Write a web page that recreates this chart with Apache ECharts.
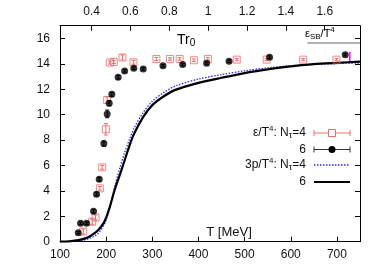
<!DOCTYPE html>
<html><head><meta charset="utf-8">
<script src="https://cdn.jsdelivr.net/npm/echarts@6/dist/echarts.min.js"></script>
<style>html,body{margin:0;padding:0;background:#fff}#c{width:382px;height:267px}</style>
</head><body><div id="c"></div>
<script>
// ε/T^4, N_tau = 4 (open red squares)
const T_eps4 = [150.4,169.8,177,186.4,191.4,199.4,202.2,208,216.6,235.4,259.2,308.8,338.3,359.2,390.1,420.4,483,547.8,627,699];
const V_eps4 = [0.8,1.57,1.9,4.2,5.85,8.85,11.15,14.1,14.15,14.5,14.12,14.38,14.38,14.38,14.28,14.38,14.33,14.33,14.33,14.33];
const E_eps4 = [0.2,0.2,0.2,0.15,0.15,0.45,0.25,0.12,0.12,0.2,0.15,0.12,0.1,0.1,0.1,0.1,0.08,0.08,0.08,0.08];
// ε/T^4, N_tau = 6 (filled black circles)
const T_eps6 = [139.6,144.6,157.6,172.7,179.2,185,195,202.2,206.6,212.3,226,240,259.9,280.3,323.1,365.8,417.7,466.3,554,718];
const V_eps6 = [0.71,1.45,1.45,2.39,3.73,4.91,7.72,10.06,10.9,11.6,12.94,13.44,13.65,13.6,13.85,13.94,14.05,14.2,14.52,14.72];
const E_eps6 = [0.1,0.1,0.1,0.12,0.12,0.15,0.2,0.3,0.2,0.15,0.15,0.1,0.1,0.1,0.1,0.1,0.1,0.1,0.1,0.1];
// 3p/T^4 curves
const T_p = [100,120,140,160,175,185,195,200,205,210,215,220,230,240,250,260,280,300,325,350,400,450,500,550,600,650,700,750];
const V_p4 = [0,0.01,0.06,0.2,0.45,0.75,1.3,1.72,2.3,3.0,3.8,4.55,5.85,7.0,8.0,8.9,10.15,11.05,11.75,12.25,12.8,13.15,13.45,13.68,13.85,13.96,14.02,14.06];
const V_p6 = [0,0.03,0.12,0.33,0.68,1.0,1.5,1.9,2.4,3.0,3.65,4.25,5.3,6.4,7.5,8.45,9.8,10.75,11.45,11.95,12.5,12.9,13.27,13.56,13.8,13.97,14.08,14.18];
// Stefan-Boltzmann limit segment and magenta bar
const SB_T = [636, 750];
const SB_V = [15.63, 15.63];
const MAG_T = [728, 728];
const MAG_V = [14.15, 14.95];
// axes
const X_MIN = 100, X_MAX = 750, X_STEP = 100;
const Y_MIN = 0, Y_MAX = 17, Y_STEP = 2;
const MEV_PER_R0T = 421;
const TOP_TICKS = [0.4,0.6,0.8,1.0,1.2,1.4,1.6];

const RED = '#f06a6a', BLUE = '#2a2aff', BLK = '#000';
const FONT = 'Liberation Sans, Arial, Helvetica, sans-serif';

const zip3 = (a,b,c) => a.map((t,i)=>[t,b[i],c[i]]);
const zip2 = (a,b) => a.map((t,i)=>[t,b[i]]);

function errRender(color){
  return function(params, api){
    const x = api.value(0), y = api.value(1), e = api.value(2);
    const p1 = api.coord([x, y-e]), p2 = api.coord([x, y+e]);
    const w = 2;
    const st = {stroke: color, lineWidth: 1, fill: null};
    return {type:'group', children:[
      {type:'line', shape:{x1:p1[0],y1:p1[1],x2:p2[0],y2:p2[1]}, style:st},
      {type:'line', shape:{x1:p1[0]-w,y1:p1[1],x2:p1[0]+w,y2:p1[1]}, style:st},
      {type:'line', shape:{x1:p2[0]-w,y1:p2[1],x2:p2[0]+w,y2:p2[1]}, style:st}
    ]};
  };
}

const chart = echarts.init(document.getElementById('c'), null, {renderer:'canvas'});
const axisLabelStyle = {color:'#111', fontSize:12, fontFamily:FONT};
const rich = {
  sup:{fontSize:8, fontFamily:FONT, color:'#111', padding:[0,0,9,0]},
  sub:{fontSize:9, fontFamily:FONT, color:'#111', padding:[6,0,0,0]},
  n:{fontSize:12, fontFamily:FONT, color:'#111'}
};

// legend drawn as graphics
const LX0 = 314, LX1 = 350, LXC = 332, LTX = 306;
const legendRows = [133, 149.5, 165, 182];
function capLine(y, color){
  return [
    {type:'line', shape:{x1:LX0,y1:y,x2:LX1,y2:y}, style:{stroke:color, lineWidth:1}},
    {type:'line', shape:{x1:LX0,y1:y-3,x2:LX0,y2:y+3}, style:{stroke:color, lineWidth:1}},
    {type:'line', shape:{x1:LX1,y1:y-3,x2:LX1,y2:y+3}, style:{stroke:color, lineWidth:1}}
  ];
}
function ltext(y, str){
  return {type:'text', x:LTX, y:y, style:{text:str, rich:rich, fontSize:12, fontFamily:FONT, fill:'#111', align:'right', verticalAlign:'middle'}};
}

const graphics = [
  ltext(legendRows[0], '{n|ε/T}{sup|4}{n|: N}{sub|τ}{n|=4}'),
  ...capLine(legendRows[0], RED),
  {type:'rect', shape:{x:LXC-3.5, y:legendRows[0]-3.5, width:7, height:7}, style:{fill:'#fff', stroke:RED, lineWidth:1}},
  ltext(legendRows[1], '{n|6}'),
  ...capLine(legendRows[1], '#333'),
  {type:'circle', shape:{cx:LXC, cy:legendRows[1], r:3.5}, style:{fill:BLK}},
  ltext(legendRows[2], '{n|3p/T}{sup|4}{n|: N}{sub|τ}{n|=4}'),
  {type:'line', shape:{x1:LX0,y1:legendRows[2],x2:LX1,y2:legendRows[2]}, style:{stroke:BLUE, lineWidth:1.3, lineDash:[1.5,1.5]}},
  ltext(legendRows[3], '{n|6}'),
  {type:'line', shape:{x1:LX0,y1:legendRows[3],x2:LX1,y2:legendRows[3]}, style:{stroke:BLK, lineWidth:2.2}},
  {type:'text', x:229, y:232, style:{text:'T [MeV]', fontSize:13, fontFamily:FONT, fill:'#111', align:'center', verticalAlign:'middle'}},
  {type:'text', x:177, y:40, style:{text:'{t|Tr}{s|0}', rich:{t:{fontSize:14, fontFamily:FONT, color:'#111'}, s:{fontSize:10, fontFamily:FONT, color:'#111', padding:[7,0,0,0]}}, align:'left', verticalAlign:'middle'}},
  {type:'text', x:305, y:34, style:{text:'{e|ε}{s|SB}{e|/T}{p|4}', rich:{e:{fontSize:11, fontFamily:FONT, color:'#111'}, s:{fontSize:8, fontFamily:FONT, color:'#111', padding:[6,0,0,0]}, p:{fontSize:8, fontFamily:FONT, color:'#111', padding:[0,0,9,0]}}, align:'left', verticalAlign:'middle'}}
];

chart.setOption({
  animation:false,
  backgroundColor:'#fff',
  grid:{left:60, right:22, top:25.7, bottom:25.3, containLabel:false},
  xAxis:[
    {type:'value', position:'bottom', min:X_MIN, max:X_MAX, interval:X_STEP,
     axisLine:{show:true, onZero:false, lineStyle:{color:BLK, width:1}},
     axisTick:{show:true, inside:true, length:5, lineStyle:{color:BLK}},
     axisLabel:{...axisLabelStyle, margin:7, showMaxLabel:false},
     splitLine:{show:false}},
    {type:'value', position:'top', min:X_MIN/MEV_PER_R0T, max:X_MAX/MEV_PER_R0T,
     axisLine:{show:true, onZero:false, lineStyle:{color:BLK, width:1}},
     axisTick:{show:true, inside:true, length:5, lineStyle:{color:BLK}, customValues:TOP_TICKS},
     axisLabel:{...axisLabelStyle, margin:8, customValues:TOP_TICKS, formatter:v=>String(Math.round(v*10)/10)},
     splitLine:{show:false}}
  ],
  yAxis:[
    {type:'value', position:'left', min:Y_MIN, max:Y_MAX, interval:Y_STEP,
     axisLine:{show:true, onZero:false, lineStyle:{color:BLK, width:1}},
     axisTick:{show:true, inside:true, length:5, lineStyle:{color:BLK}},
     axisLabel:{...axisLabelStyle, margin:10, showMaxLabel:false},
     splitLine:{show:false}},
    {type:'value', position:'right', min:Y_MIN, max:Y_MAX, interval:Y_STEP,
     axisLine:{show:true, onZero:false, lineStyle:{color:BLK, width:1}},
     axisTick:{show:true, inside:true, length:5, lineStyle:{color:BLK}},
     axisLabel:{show:false},
     splitLine:{show:false}}
  ],
  series:[
    {name:'p4', type:'line', data:zip2(T_p,V_p4), showSymbol:false, symbol:'none', smooth:0.3,
     lineStyle:{color:BLUE, width:1.3, type:[1.5,1.5]}, z:2},
    {name:'p6', type:'line', data:zip2(T_p,V_p6), showSymbol:false, symbol:'none', smooth:0.3,
     lineStyle:{color:BLK, width:2.2}, z:3},
    {name:'sb', type:'line', data:zip2(SB_T,SB_V), showSymbol:false, symbol:'none',
     lineStyle:{color:'#999', width:1.5}, z:2},
    {name:'mag', type:'line', data:zip2(MAG_T,MAG_V), showSymbol:false, symbol:'none',
     lineStyle:{color:'#ff00ff', width:1.5}, z:2},
    {name:'eps4err', type:'custom', renderItem:errRender(RED), data:zip3(T_eps4,V_eps4,E_eps4), z:4},
    {name:'eps4', type:'scatter', data:zip2(T_eps4,V_eps4), symbol:'rect', symbolSize:7,
     itemStyle:{color:'rgba(255,255,255,0)', borderColor:RED, borderWidth:1}, z:5},
    {name:'eps6err', type:'custom', renderItem:errRender(BLK), data:zip3(T_eps6,V_eps6,E_eps6), z:6},
    {name:'eps6', type:'scatter', data:zip2(T_eps6,V_eps6), symbol:'circle', symbolSize:7,
     itemStyle:{color:BLK}, z:7}
  ],
  graphic:graphics
});
</script></body></html>
